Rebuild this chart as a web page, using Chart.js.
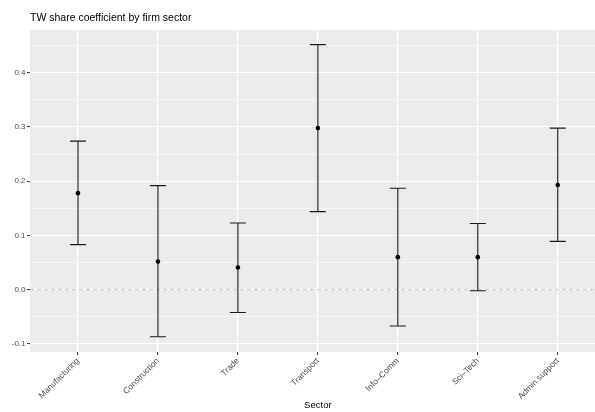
<!DOCTYPE html>
<html>
<head>
<meta charset="utf-8">
<script src="https://cdn.jsdelivr.net/npm/chart.js@4.4.1/dist/chart.umd.min.js"></script>
<style>
  html, body { margin: 0; padding: 0; background: #fff; overflow: hidden; }
  #wrap { width: 595px; height: 412px; position: relative; overflow: hidden; }
  canvas { display: block; }
</style>
</head>
<body>
<div id="wrap"><canvas id="chart" width="608" height="412"></canvas></div>
<script>
// TW share coefficient by firm sector

const sectors  = ["Manufacturing", "Construction", "Trade", "Transport", "Info–Comm", "Sci–Tech", "Admin support"];
const estimate = [0.178, 0.052, 0.041, 0.298, 0.060, 0.060, 0.193];
const lower    = [0.083, -0.087, -0.042, 0.144, -0.067, -0.002, 0.089];
const upper    = [0.274, 0.192, 0.123, 0.452, 0.187, 0.122, 0.298];

const yMajorTicks = [-0.1, 0.0, 0.1, 0.2, 0.3, 0.4];
const yMinorTicks = [-0.05, 0.05, 0.15, 0.25, 0.35, 0.45];
const refValue = 0;

const FONT = "'Liberation Sans', Arial, Helvetica, sans-serif";
const isMajor = v => yMajorTicks.some(m => Math.abs(m - v) < 1e-9);

// panel background
const panelBg = {
    id: "panelBg",
    beforeDraw(chart) {
        const a = chart.chartArea, ctx = chart.ctx;
        ctx.save();
        ctx.fillStyle = "#EBEBEB";
        ctx.fillRect(a.left, a.top, a.right - a.left, a.bottom - a.top);
        ctx.restore();
    },
};

// dashed reference line at zero
const refLine = {
    id: "refLine",
    beforeDatasetsDraw(chart) {
        const a = chart.chartArea, ctx = chart.ctx;
        const y = chart.scales.y.getPixelForValue(refValue);
        ctx.save();
        ctx.strokeStyle = "#C6C6C6";
        ctx.lineWidth = 1;
        ctx.setLineDash([4, 3]);
        ctx.beginPath();
        ctx.moveTo(a.left, y);
        ctx.lineTo(a.right, y);
        ctx.stroke();
        ctx.restore();
    },
};

// error bars from lower/upper through the scales
const errorBars = {
    id: "errorBars",
    beforeDatasetsDraw(chart) {
        const xs = chart.scales.x, ys = chart.scales.y, ctx = chart.ctx;
        ctx.save();
        ctx.strokeStyle = "#1a1a1a";
        ctx.lineWidth = 1.1;
        sectors.forEach(function(_, i) {
            const x  = xs.getPixelForValue(i);
            const xl = xs.getPixelForValue(i - 0.1);
            const xr = xs.getPixelForValue(i + 0.1);
            const yl = ys.getPixelForValue(lower[i]);
            const yu = ys.getPixelForValue(upper[i]);
            ctx.beginPath();
            ctx.moveTo(x, yl); ctx.lineTo(x, yu);
            ctx.moveTo(xl, yl); ctx.lineTo(xr, yl);
            ctx.moveTo(xl, yu); ctx.lineTo(xr, yu);
            ctx.stroke();
        });
        ctx.restore();
    },
};

// title left-aligned to panel
const plotTitle = {
    id: "plotTitle",
    afterDraw(chart) {
        const ctx = chart.ctx;
        ctx.save();
        ctx.fillStyle = "#000";
        ctx.font = "10.5px " + FONT;
        ctx.textAlign = "left";
        ctx.textBaseline = "alphabetic";
        ctx.fillText("TW share coefficient by firm sector", chart.chartArea.left, 20.5);
        ctx.restore();
    },
};

new Chart(document.getElementById("chart"), {
    type: "scatter",
    data: {
        datasets: [{
            label: "estimate",
            data: estimate.map((v, i) => ({ x: i, y: v })),
            backgroundColor: "#000",
            borderColor: "#000",
            borderWidth: 0,
            pointRadius: 2.3,
            pointHoverRadius: 2.3,
        }],
    },
    plugins: [panelBg, refLine, errorBars, plotTitle],
    options: {
        responsive: false,
        animation: false,
        devicePixelRatio: 1,
        layout: { padding: { top: 30, left: 0, right: 0, bottom: 0 } },
        plugins: { legend: { display: false }, tooltip: { enabled: false }, title: { display: false } },
        scales: {
            x: {
                type: "linear",
                min: -0.6,
                max: 6.6,
                afterBuildTicks(scale) { scale.ticks = sectors.map((_, i) => ({ value: i })); },
                afterFit(scale) {
                    scale.height = 60;
                    scale.paddingRight = 0;
                    scale.paddingLeft = 0;
                },
                border: { display: false },
                grid: { color: "#FFFFFF", lineWidth: 1.1, tickColor: "#333333", tickLength: 3, tickWidth: 1 },
                ticks: {
                    autoSkip: false,
                    minRotation: 45,
                    maxRotation: 45,
                    padding: 1,
                    color: "#4D4D4D",
                    font: { family: FONT, size: 8.4 },
                    callback: v => sectors[v] || "",
                },
                title: {
                    display: true,
                    text: "Sector",
                    color: "#000",
                    font: { family: FONT, size: 9.5 },
                    padding: { top: 0, bottom: 1 },
                },
            },
            y: {
                min: -0.115,
                max: 0.479,
                afterBuildTicks(scale) {
                    scale.ticks = yMajorTicks.concat(yMinorTicks).sort((a, b) => a - b).map(v => ({ value: v }));
                },
                afterFit(scale) { scale.width = 30; },
                border: { display: false },
                grid: {
                    color: "#FFFFFF",
                    lineWidth: c => isMajor(c.tick.value) ? 1.1 : 0.55,
                    tickColor: c => isMajor(c.tick.value) ? "#333333" : "rgba(0,0,0,0)",
                    tickLength: 3,
                    tickWidth: 1,
                },
                ticks: {
                    autoSkip: false,
                    padding: 1.5,
                    color: "#4D4D4D",
                    font: { family: FONT, size: 8 },
                    callback: v => isMajor(v) ? v.toFixed(1) : "",
                },
            },
        },
    },
});
</script>
</body>
</html>
